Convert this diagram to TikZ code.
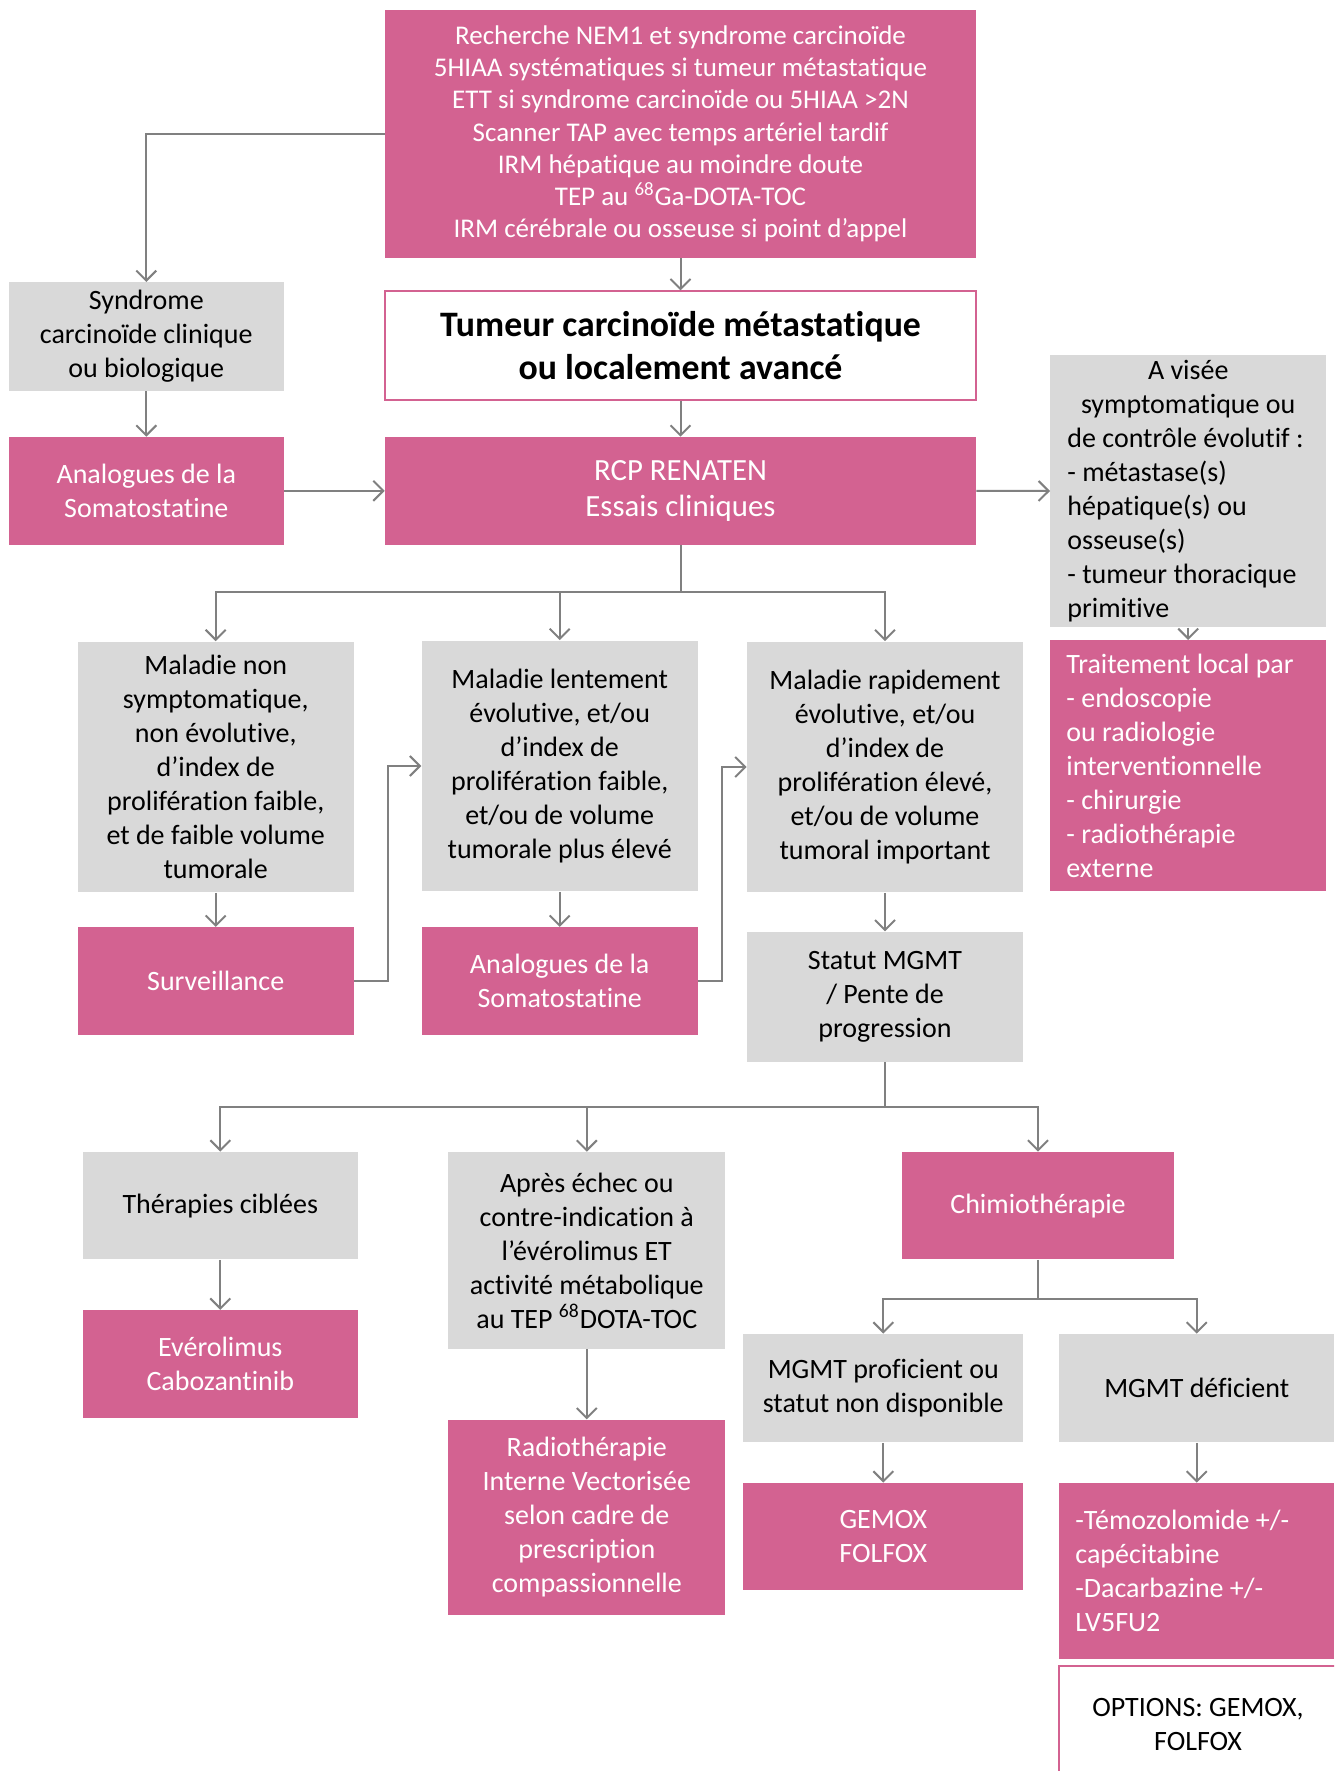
\documentclass[tikz,border=0pt]{standalone}
\usepackage{fontspec}
\setmainfont{Carlito}[Ligatures=NoCommon]
\usepackage{tikz}
\usetikzlibrary{arrows.meta, calc}

\definecolor{rosebox}{RGB}{211,98,145}
\definecolor{grisbox}{RGB}{217,217,217}
\definecolor{grisline}{RGB}{128,128,128}

\begin{document}
\begin{tikzpicture}[x=0.5pt, y=-0.5pt,
  box/.style={rectangle, align=center, inner sep=0pt, font=\fontsize{14}{17}\selectfont},
  rose/.style={box, fill=rosebox, text=white},
  gris/.style={box, fill=grisbox, text=black},
  blanc/.style={box, fill=white, draw=rosebox, line width=1pt, text=black},
  gauche/.style={align=flush left, inner xsep=8pt},
  arr/.style={draw=grisline, line width=1pt, -{Straight Barb[length=5pt, width=10pt]}},
  ligne/.style={draw=grisline, line width=1pt}]

  \path[use as bounding box, clip] (0,0) rectangle (1334,1771);

  % Bilan initial
  \node[rose, minimum width=295.4pt, minimum height=123.7pt, font=\fontsize{13.5}{16.1}\selectfont] (top) at (680.5,134)
    {Recherche NEM1 et syndrome carcinoïde\\
     5HIAA systématiques si tumeur métastatique\\
     ETT si syndrome carcinoïde ou 5HIAA >2N\\
     Scanner TAP avec temps artériel tardif\\
     IRM hépatique au moindre doute\\
     TEP au \textsuperscript{68}Ga-DOTA-TOC\\
     IRM cérébrale ou osseuse si point d’appel};

  % Syndrome carcinoide
  \node[gris, minimum width=137.3pt, minimum height=54.2pt] (syn) at (146.3,336.6)
    {Syndrome\\carcinoïde clinique\\ou biologique};
  \node[rose, minimum width=137.3pt, minimum height=53.7pt] (ana1) at (146.3,490.8)
    {Analogues de la\\Somatostatine};

  % Tumeur et RCP
  \node[blanc, minimum width=295.4pt, minimum height=54.2pt, font=\bfseries\fontsize{17.9}{21.5}\selectfont] (tum) at (680.5,345.6)
    {Tumeur carcinoïde métastatique\\ou localement avancé};
  \node[rose, minimum width=295.4pt, minimum height=53.7pt, font=\fontsize{15.4}{18}\selectfont] (rcp) at (680.5,490.8)
    {RCP RENATEN\\Essais cliniques};

  % Traitement local
  \node[gris, gauche, inner xsep=8.5pt, text width=120.8pt, minimum height=136.1pt] (visee) at (1188.2,491)
    {\makebox[\linewidth]{A visée}\\
     \makebox[\linewidth]{symptomatique ou}\\
     \mbox{de contrôle évolutif :}\\
     - métastase(s)\\
     hépatique(s) ou\\
     osseuse(s)\\
     - tumeur thoracique\\
     primitive};
  \node[rose, gauche, text width=121.8pt, minimum height=125.4pt] (trait) at (1188.2,765.8)
    {Traitement local par\\
     - endoscopie\\
     ou radiologie\\
     interventionnelle\\
     - chirurgie\\
     - radiothérapie\\
     externe};

  % Trois situations
  \node[gris, minimum width=138pt, minimum height=125.4pt] (mal1) at (215.7,767)
    {Maladie non\\symptomatique,\\non évolutive,\\d’index de\\prolifération faible,\\et de faible volume\\tumorale};
  \node[gris, minimum width=138pt, minimum height=125.4pt] (mal2) at (559.7,766)
    {Maladie lentement\\évolutive, et/ou\\d’index de\\prolifération faible,\\et/ou de volume\\tumorale plus élevé};
  \node[gris, minimum width=138pt, minimum height=125.4pt] (mal3) at (885,767)
    {Maladie rapidement\\évolutive, et/ou\\d’index de\\prolifération élevé,\\et/ou de volume\\tumoral important};

  \node[rose, minimum width=138pt, minimum height=53.7pt] (surv) at (215.7,981) {Surveillance};
  \node[rose, minimum width=138pt, minimum height=53.7pt] (ana2) at (559.7,981)
    {Analogues de la\\Somatostatine};
  \node[gris, minimum width=138pt, minimum height=65pt] (mgmt) at (885,996.8)
    {Statut MGMT\\/ Pente de\\progression};

  % Options apres MGMT
  \node[gris, minimum width=137.8pt, minimum height=53.7pt] (ther) at (220.3,1205.7) {Thérapies ciblées};
  \node[rose, minimum width=137.8pt, minimum height=53.7pt] (evero) at (220.3,1363.9)
    {Evérolimus\\Cabozantinib};
  \node[gris, minimum width=138.4pt, minimum height=98.3pt] (apres) at (586.8,1250.4)
    {Après échec ou\\contre-indication à\\l’évérolimus ET\\activité métabolique\\au TEP \textsuperscript{68}DOTA-TOC};
  \node[rose, minimum width=138.4pt, minimum height=97.7pt] (radio) at (586.8,1517.5)
    {Radiothérapie\\Interne Vectorisée\\selon cadre de\\prescription\\compassionnelle};
  \node[rose, minimum width=135.6pt, minimum height=53.7pt] (chimio) at (1038,1205.7) {Chimiothérapie};

  % Chimiotherapie selon MGMT
  \node[gris, minimum width=140pt, minimum height=54.2pt] (prof) at (883.3,1388.2)
    {MGMT proficient ou\\statut non disponible};
  \node[gris, minimum width=137.3pt, minimum height=54.2pt] (def) at (1196.7,1388.2) {MGMT déficient};
  \node[rose, minimum width=140pt, minimum height=53.7pt] (gemox) at (883.3,1536.7) {GEMOX\\FOLFOX};
  \node[rose, gauche, text width=121.3pt, minimum height=88.1pt] (temo) at (1196.7,1571.1)
    {-Témozolomide +/-\\capécitabine\\-Dacarbazine +/-\\LV5FU2};
  \node[blanc, minimum width=139pt, minimum height=58pt] (opt) at (1198,1724)
    {OPTIONS: GEMOX,\\FOLFOX};

  % Connecteurs
  \draw[arr] (top.west) -| (syn.north);
  \draw[arr] (top.south) -- (tum.north);
  \draw[arr] (tum.south) -- (rcp.north);
  \draw[arr] (syn.south) -- (ana1.north);
  \draw[arr] (ana1.east) -- (rcp.west);
  \draw[arr] (rcp.east) -- (visee.west);
  \draw[arr] (visee.south) -- (trait.north);

  \coordinate (split1) at (680.5,592);
  \draw[ligne] (rcp.south) -- (split1);
  \draw[arr] (split1) -| (mal1.north);
  \draw[arr] (split1) -| (mal2.north);
  \draw[arr] (split1) -| (mal3.north);

  \draw[arr] (mal1.south) -- (surv.north);
  \draw[arr] (mal2.south) -- (ana2.north);
  \draw[arr] (mal3.south) -- (mgmt.north);
  \draw[arr] (surv.east) -- ($(surv.east)!0.5!(ana2.west)$) |- (mal2.west);
  \draw[arr] (ana2.east) -- ($(ana2.east)!0.5!(mal3.west |- ana2.east)$) |- (mal3.west);

  \coordinate (split2) at (885,1107);
  \draw[ligne] (mgmt.south) -- (split2);
  \draw[arr] (split2) -| (ther.north);
  \draw[arr] (split2) -| (apres.north);
  \draw[arr] (split2) -| (chimio.north);

  \draw[arr] (ther.south) -- (evero.north);
  \draw[arr] (apres.south) -- (radio.north);

  \coordinate (split3) at (1038,1299);
  \draw[ligne] (chimio.south) -- (split3);
  \draw[arr] (split3) -| (prof.north);
  \draw[arr] (split3) -| (def.north);
  \draw[arr] (prof.south) -- (gemox.north);
  \draw[arr] (def.south) -- (temo.north);

\end{tikzpicture}
\end{document}
